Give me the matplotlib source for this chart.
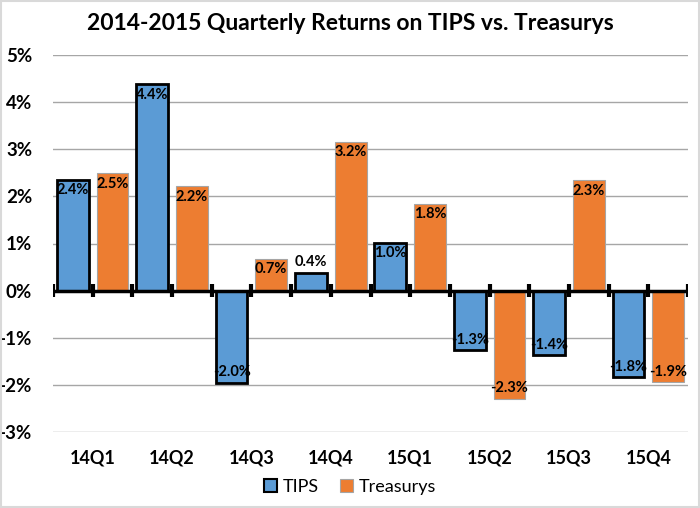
import matplotlib
matplotlib.use("Agg")
import matplotlib.pyplot as plt
import numpy as np
from matplotlib.patches import Rectangle

plt.rcParams['font.family'] = ['Lato', 'DejaVu Sans']

categories = ["14Q1", "14Q2", "14Q3", "14Q4", "15Q1", "15Q2", "15Q3", "15Q4"]
tips = [2.35, 4.38, -1.95, 0.38, 1.02, -1.27, -1.37, -1.83]
treasurys = [2.49, 2.21, 0.67, 3.16, 1.84, -2.29, 2.34, -1.94]
tips_labels = ["2.4%", "4.4%", "-2.0%", "0.4%", "1.0%", "-1.3%", "-1.4%", "-1.8%"]
treas_labels = ["2.5%", "2.2%", "0.7%", "3.2%", "1.8%", "-2.3%", "2.3%", "-1.9%"]
yticks = [-3, -2, -1, 0, 1, 2, 3, 4, 5]

blue = "#5B9BD5"
orange = "#ED7D31"

fig = plt.figure(figsize=(7, 5.08), dpi=100)
ax = fig.add_axes([53/700, 1-432/508, (688-53)/700, (432-55)/508])

x = np.arange(len(categories))
w = 0.40
off = 0.25
ax.bar(x - off, tips, w, color=blue, edgecolor="black", linewidth=2, zorder=3)
ax.bar(x + off, treasurys, w, color=orange, edgecolor="#A5A5A5", linewidth=0.8, zorder=3)

ax.set_xlim(-0.5, len(categories) - 0.5)
ax.set_ylim(-3, 5)
ax.set_yticks(yticks)
ax.set_yticklabels([f"{t}%" for t in yticks], fontsize=13.5, fontweight="bold")
ax.yaxis.grid(True, color="#A6A6A6", linewidth=1, zorder=0)
ax.tick_params(axis="y", length=0, pad=15)
for s in ax.spines.values():
    s.set_visible(False)

# zero axis with tick marks every half category
ax.axhline(0, color="black", linewidth=2.5, zorder=4)
for b in np.arange(-0.5, len(categories), 0.5):
    ax.plot([b, b], [-0.13, 0.13], color="black", linewidth=3, zorder=4, solid_capstyle="butt")

ax.set_xticks([])
for i, c in enumerate(categories):
    ax.text(i, -3.55, c, ha="center", va="center", fontsize=13, fontweight="bold")

def label(vals, labs, xs):
    for xi, v, l in zip(xs, vals, labs):
        if abs(v) < 0.5:
            ax.text(xi, v + 0.08, l, ha="center", va="bottom", fontsize=10.5, fontweight="bold", zorder=5)
        elif v > 0:
            ax.text(xi, v - 0.07, l, ha="center", va="top", fontsize=10.5, fontweight="bold", zorder=5)
        else:
            ax.text(xi, v + 0.07, l, ha="center", va="bottom", fontsize=10.5, fontweight="bold", zorder=5)

label(tips, tips_labels, x - off)
label(treasurys, treas_labels, x + off)

fig.text(0.5, 1-24/508, "2014-2015 Quarterly Returns on TIPS vs. Treasurys", ha="center", va="center",
         fontsize=16.5, fontweight="bold")

h1 = Rectangle((0, 0), 1, 1, facecolor=blue, edgecolor="black", linewidth=1.5)
h2 = Rectangle((0, 0), 1, 1, facecolor=orange, edgecolor="#A5A5A5", linewidth=0.8)
fig.legend([h1, h2], ["TIPS", "Treasurys"], loc="center", bbox_to_anchor=(0.5, 1-487/508),
           ncol=2, frameon=False, fontsize=13, handlelength=0.7, handleheight=0.7,
           handletextpad=0.3, columnspacing=1.2)

fig.patches.append(Rectangle((0.002, 0.002), 0.996, 0.996, transform=fig.transFigure,
                             fill=False, edgecolor="#D9D9D9", linewidth=1.5))

fig.savefig("out.png", dpi=100)
